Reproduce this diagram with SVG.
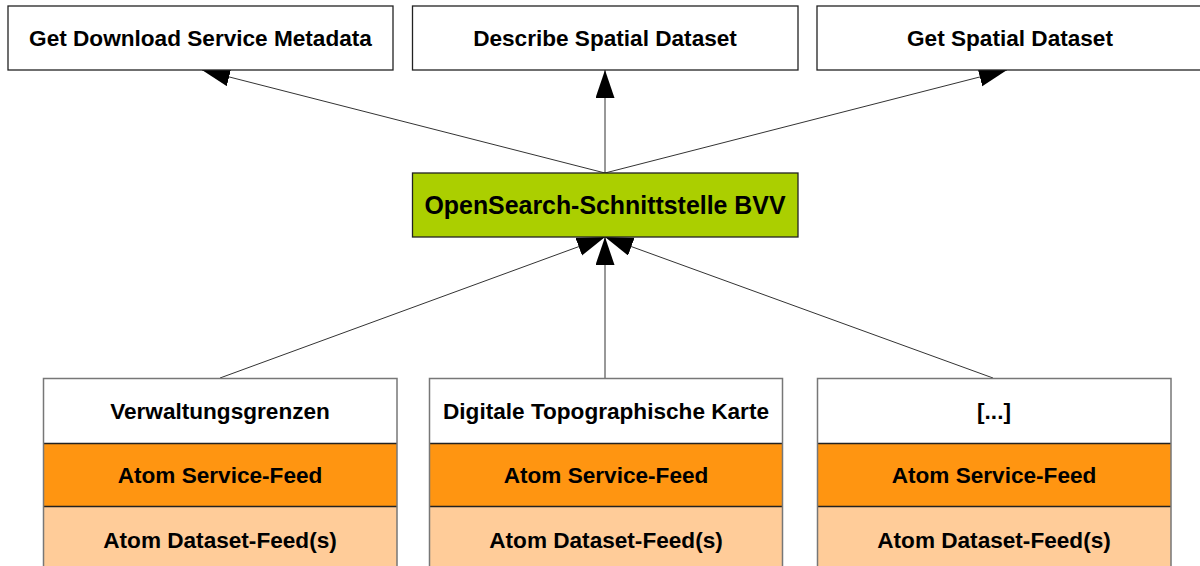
<svg xmlns="http://www.w3.org/2000/svg" width="1200" height="566" viewBox="0 0 1200 566">
<style>
text{font-family:"Liberation Sans",Arial,sans-serif;font-weight:bold;font-size:22.6px;fill:#000;text-anchor:middle}
.big{font-size:24.9px}
.top{fill:#fff;stroke:#222;stroke-width:1.3}
.outer{fill:none;stroke:#777;stroke-width:1.5}
.w{fill:#fff}
.o{fill:#ff9511}
.l{fill:#ffcc99}
.div{stroke:#222;stroke-width:1.3}
.c{stroke:#333;stroke-width:1;fill:none;marker-end:url(#ah)}
</style>
<defs>
<marker id="ah" markerUnits="userSpaceOnUse" markerWidth="30" markerHeight="20" refX="28" refY="9.5" orient="auto">
<path d="M0,0 L28,9.5 L0,19 z" fill="#000"/>
</marker>
</defs>
<rect width="1200" height="566" fill="#fff"/>
<g id="connectors">
<line class="c" x1="605" y1="173" x2="202" y2="70"/>
<line class="c" x1="605" y1="173" x2="605" y2="70"/>
<line class="c" x1="605" y1="173" x2="1007" y2="70"/>
<line class="c" x1="220" y1="378" x2="605" y2="237"/>
<line class="c" x1="605" y1="378" x2="605" y2="237"/>
<line class="c" x1="993" y1="378" x2="605" y2="237"/>
</g>
<g id="n_metadata">
<rect class="top" x="8" y="6" width="385" height="64"/>
<text x="200.5" y="46">Get Download Service Metadata</text>
</g>
<g id="n_describe">
<rect class="top" x="412.5" y="6" width="385.5" height="64"/>
<text x="605" y="46">Describe Spatial Dataset</text>
</g>
<g id="n_get">
<rect class="top" x="817" y="6" width="390" height="64"/>
<text x="1010" y="46">Get Spatial Dataset</text>
</g>
<g id="n_opensearch">
<rect x="412.5" y="173" width="385.5" height="64" fill="#abcf00" stroke="#222" stroke-width="1.3"/>
<text class="big" x="605" y="214">OpenSearch-Schnittstelle BVV</text>
</g>
<g id="n_verwaltung">
<rect class="w" x="43.5" y="378.5" width="353.5" height="65"/>
<rect class="o" x="43.5" y="443.5" width="353.5" height="63"/>
<rect class="l" x="43.5" y="506.5" width="353.5" height="70"/>
<line class="div" x1="43.5" y1="443.5" x2="397" y2="443.5"/>
<line class="div" x1="43.5" y1="506.5" x2="397" y2="506.5"/>
<rect class="outer" x="43.5" y="378.5" width="353.5" height="200"/>
<text x="220" y="419">Verwaltungsgrenzen</text>
<text x="220" y="483">Atom Service-Feed</text>
<text x="220" y="548">Atom Dataset-Feed(s)</text>
</g>
<g id="n_dtk">
<rect class="w" x="429.5" y="378.5" width="353" height="65"/>
<rect class="o" x="429.5" y="443.5" width="353" height="63"/>
<rect class="l" x="429.5" y="506.5" width="353" height="70"/>
<line class="div" x1="429.5" y1="443.5" x2="782.5" y2="443.5"/>
<line class="div" x1="429.5" y1="506.5" x2="782.5" y2="506.5"/>
<rect class="outer" x="429.5" y="378.5" width="353" height="200"/>
<text x="606" y="419">Digitale Topographische Karte</text>
<text x="606" y="483">Atom Service-Feed</text>
<text x="606" y="548">Atom Dataset-Feed(s)</text>
</g>
<g id="n_more">
<rect class="w" x="817.5" y="378.5" width="353.5" height="65"/>
<rect class="o" x="817.5" y="443.5" width="353.5" height="63"/>
<rect class="l" x="817.5" y="506.5" width="353.5" height="70"/>
<line class="div" x1="817.5" y1="443.5" x2="1171" y2="443.5"/>
<line class="div" x1="817.5" y1="506.5" x2="1171" y2="506.5"/>
<rect class="outer" x="817.5" y="378.5" width="353.5" height="200"/>
<text x="994" y="419">[...]</text>
<text x="994" y="483">Atom Service-Feed</text>
<text x="994" y="548">Atom Dataset-Feed(s)</text>
</g>
</svg>
